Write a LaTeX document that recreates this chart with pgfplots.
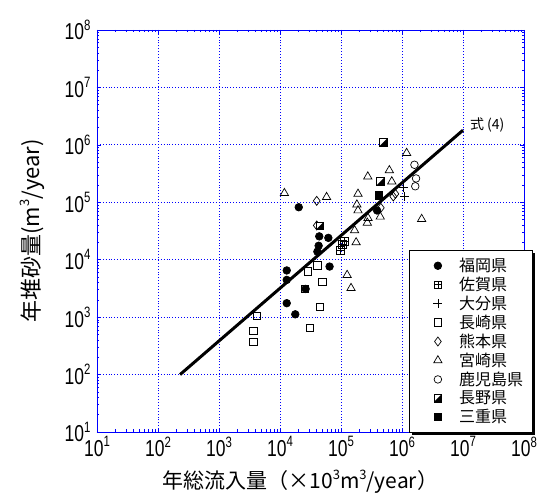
\documentclass[border=0pt]{standalone}
\usepackage{pgfplots}
\pgfplotsset{compat=1.18}
\usepackage{fontspec}
\setmainfont{Liberation Sans}
\newfontfamily\tickf[FakeStretch=0.76]{Liberation Sans}
\newfontfamily\jp{Noto Sans CJK JP}
\usetikzlibrary{shadows}
\newcommand{\tl}[1]{{\fontsize{23}{23}\tickf 10\raisebox{0.42em}{\fontsize{15}{15}\selectfont #1}}}
\pgfdeclareplotmark{sqplus}{%
  \pgfpathrectangle{\pgfpoint{-\pgfplotmarksize}{-\pgfplotmarksize}}{\pgfpoint{2\pgfplotmarksize}{2\pgfplotmarksize}}%
  \pgfpathmoveto{\pgfpoint{-\pgfplotmarksize}{0pt}}\pgfpathlineto{\pgfpoint{\pgfplotmarksize}{0pt}}%
  \pgfpathmoveto{\pgfpoint{0pt}{-\pgfplotmarksize}}\pgfpathlineto{\pgfpoint{0pt}{\pgfplotmarksize}}%
  \pgfusepathqstroke}
\pgfdeclareplotmark{halfsq}{%
  \pgfsetfillcolor{white}%
  \pgfpathrectangle{\pgfpoint{-\pgfplotmarksize}{-\pgfplotmarksize}}{\pgfpoint{2\pgfplotmarksize}{2\pgfplotmarksize}}%
  \pgfusepath{fill,stroke}%
  \pgfsetfillcolor{black}%
  \pgfpathmoveto{\pgfpoint{-\pgfplotmarksize}{-\pgfplotmarksize}}%
  \pgfpathlineto{\pgfpoint{\pgfplotmarksize}{\pgfplotmarksize}}%
  \pgfpathlineto{\pgfpoint{\pgfplotmarksize}{-\pgfplotmarksize}}%
  \pgfpathclose\pgfusepath{fill}}
\begin{document}
\begin{tikzpicture}
\path[use as bounding box] (-97pt,-62pt) rectangle (450pt,432pt);
\begin{axis}[
  scale only axis, width=427pt, height=402pt,
  xmode=log, ymode=log, xmin=10, xmax=1e8, ymin=10, ymax=1e8,
  axis line style={blue, line width=0.8pt},
  every tick/.style={blue, line width=0.5pt},
  tick align=inside,
  major tick length=4pt, minor tick length=2.5pt,
  grid=major,
  major grid style={blue, line width=0.9pt, dash pattern=on 0.9pt off 2pt},
  xtick={1e1,1e2,1e3,1e4,1e5,1e6,1e7,1e8},
  ytick={1e1,1e2,1e3,1e4,1e5,1e6,1e7,1e8},
  xticklabels={\tl{1},\tl{2},\tl{3},\tl{4},\tl{5},\tl{6},\tl{7},\tl{8}},
  yticklabels={\tl{1},\tl{2},\tl{3},\tl{4},\tl{5},\tl{6},\tl{7},\tl{8}},
  xticklabel style={black, yshift=-1pt},
  yticklabel style={black, xshift=-3pt},
  xlabel={\jp\fontsize{21}{21}\selectfont 年総流入量（×10\raisebox{0.45em}{\fontsize{13}{13}\selectfont 3}m\raisebox{0.45em}{\fontsize{13}{13}\selectfont 3}/year）},
  ylabel={\jp\fontsize{22}{22}\selectfont 年堆砂量(m\raisebox{0.45em}{\fontsize{13}{13}\selectfont 3}/year)},
  xlabel style={at={(axis description cs:0.476,-0.124)}, anchor=center},
  ylabel style={at={(axis description cs:-0.152,0.5)}, anchor=center},
  legend style={at={(0.731,0.453)}, anchor=north west, draw=black, fill=white,
    line width=0.8pt, font=\jp\fontsize{16}{17}\selectfont,
    drop shadow={shadow xshift=2.5pt, shadow yshift=-2.5pt, fill=black, opacity=1},
    inner xsep=7pt, inner ysep=6pt, row sep=0pt},
  legend image code/.code={%
    \path (0pt,0pt);
    \path (40pt,0pt);
    \draw[#1] plot coordinates {(21pt,0pt)};},
  legend cell align=left,
  every axis plot/.append style={only marks, black, line width=0.7pt, mark size=3.8pt},
]
% 福岡県
\addplot[mark=*] coordinates {(2.03e4,8.2e4)(4.4e4,2.55e4)(6.2e4,2.4e4)(4.3e4,1.75e4)(4.1e4,1.38e4)(1.29e4,6.5e3)(1.29e4,4.45e3)(6.5e4,7.6e3)(2.63e4,3.1e3)(1.29e4,1.75e3)(1.78e4,1.12e3)(3.9e5,7.2e4)};
\addlegendentry{福岡県}
% 佐賀県
\addplot[mark=sqplus] coordinates {(1.14e5,2.08e4)(1.06e5,1.85e4)(9.8e4,1.44e4)};
\addlegendentry{佐賀県}
% 大分県
\addplot[mark=+, mark size=4.5pt] coordinates {(1.05e6,1.8e5)(1.1e6,1.26e5)};
\addlegendentry{大分県}
% 長崎県
\addplot[mark=square] coordinates {(4.06e4,7.96e3)(2.85e4,6.3e3)(4.9e4,4.1e3)(2.54e4,3.1e3)(4.5e4,1.5e3)(4.15e3,1.06e3)(3.65e3,575)(3.65e3,370)(3.1e4,650)};
\addlegendentry{長崎県}
% 熊本県
\addplot[mark=diamond, mark size=4.5pt] coordinates {(4.0e4,1.06e5)(4.0e4,3.95e4)(7.2e5,1.26e5)(7.8e5,1.4e5)(4.5e5,8.0e4)};
\addlegendentry{熊本県}
% 宮崎県
\addplot[mark=triangle, mark size=4.8pt] coordinates {(1.18e4,1.44e5)(5.8e4,1.23e5)(2.75e5,2.8e5)(6.2e5,3.6e5)(6.8e5,2.3e5)(1.19e6,7.2e5)(1.9e5,1.4e5)(1.82e5,9.1e4)(1.9e5,7.2e4)(2.77e5,5.3e4)(2.7e5,4.4e4)(4.4e5,5.6e4)(2.1e6,5.1e4)(1.67e5,3.24e4)(1.77e5,2.0e4)(1.26e5,5.4e3)(1.46e5,3.2e3)};
\addlegendentry{宮崎県}
% 鹿児島県
\addplot[mark=o] coordinates {(1.6e6,4.5e5)(1.7e6,2.6e5)(1.65e6,1.9e5)};
\addlegendentry{鹿児島県}
% 長野県
\addplot[mark=halfsq] coordinates {(4.9e5,1.1e6)(4.4e5,2.3e5)(4.5e4,3.9e4)};
\addlegendentry{長野県}
% 三重県
\addplot[mark=square*] coordinates {(4.2e5,1.31e5)};
\addlegendentry{三重県}
% 式(4)
\addplot[forget plot, no marks, sharp plot, black, line width=3pt] coordinates {(230,100)(1e7,1.8e6)};
\node[anchor=west, font=\jp\fontsize{14}{14}\selectfont, inner sep=1pt] at (axis cs:1.25e7,2.25e6) {式 (4)};
\end{axis}
\end{tikzpicture}
\end{document}
